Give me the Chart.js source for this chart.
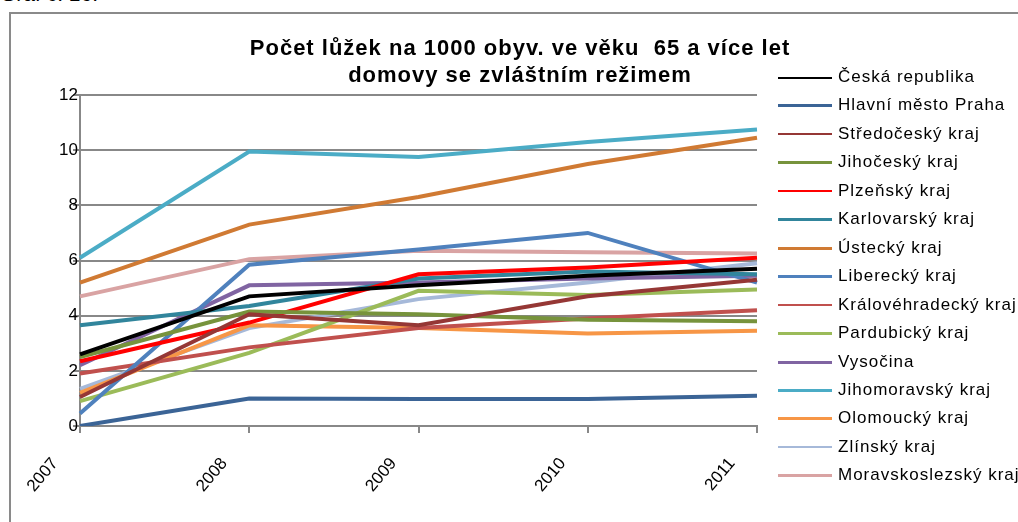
<!DOCTYPE html>
<html>
<head>
<meta charset="utf-8">
<script src="https://cdn.jsdelivr.net/npm/chart.js@4/dist/chart.umd.min.js"></script>
<style>
    body { margin: 0; background: #fff; overflow: hidden; font-family: "Liberation Sans", Arial, sans-serif; }
    #wrap { position: relative; width: 1018px; height: 522px; overflow: hidden; }
    #frame { position: absolute; left: 9px; top: 12px; width: 1100px; height: 600px; border: 2px solid #8a8a8a; }
    #topText { position: absolute; left: 0px; top: -18px; font-size: 21px; color: #000; white-space: nowrap; }
    #title { position: absolute; left: 170px; width: 700px; top: 34px; text-align: center; font-weight: bold; font-size: 22px; letter-spacing: 1px; line-height: 27px; color: #000; }
    #chartCanvas { position: absolute; left: 0; top: 0; }
    #legend { position: absolute; left: 778px; top: 0; }
    .legendItem { position: absolute; left: 0; white-space: nowrap; font-size: 17px; letter-spacing: 1px; color: #000; }
    .legendLine { display: inline-block; width: 54px; height: 3px; vertical-align: middle; margin-right: 6px; }
</style>
</head>
<body>
<div id="wrap">
    <div id="frame"></div>
    <div id="topText">Graf č. 16:</div>
    <canvas id="chartCanvas" width="1018" height="522"></canvas>
    <div id="title">Počet lůžek na 1000 obyv. ve věku&nbsp; 65 a více let<br>domovy se zvláštním režimem</div>
    <div id="legend"></div>
</div>
<script>
// Roky (osa x)
const years = ['2007', '2008', '2009', '2010', '2011'];

// Popisky osy y
const yTicks = [0, 2, 4, 6, 8, 10, 12];

// Nazvy kraju
const regions = [
    'Česká republika',
    'Hlavní město Praha',
    'Středočeský kraj',
    'Jihočeský kraj',
    'Plzeňský kraj',
    'Karlovarský kraj',
    'Ústecký kraj',
    'Liberecký kraj',
    'Královéhradecký kraj',
    'Pardubický kraj',
    'Vysočina',
    'Jihomoravský kraj',
    'Olomoucký kraj',
    'Zlínský kraj',
    'Moravskoslezský kraj'
];

// Hodnoty pro kazdy kraj (2007 - 2011)
const ceskaRepublika   = [2.6, 4.7, 5.1, 5.45, 5.7];
const praha            = [0.0, 1.0, 0.98, 0.98, 1.1];
const stredocesky      = [1.05, 4.05, 3.65, 4.7, 5.3];
const jihocesky        = [2.5, 4.15, 4.05, 3.85, 3.8];
const plzensky         = [2.35, 3.75, 5.5, 5.75, 6.1];
const karlovarsky      = [3.65, 4.35, 5.35, 5.6, 5.5];
const ustecky          = [5.2, 7.3, 8.3, 9.5, 10.45];
const liberecky        = [0.45, 5.85, 6.4, 7.0, 5.2];
const kralovehradecky  = [1.9, 2.85, 3.55, 3.9, 4.2];
const pardubicky       = [0.9, 2.65, 4.9, 4.75, 4.95];
const vysocina         = [2.2, 5.1, 5.2, 5.35, 5.45];
const jihomoravsky     = [6.1, 9.95, 9.75, 10.3, 10.75];
const olomoucky        = [1.2, 3.65, 3.55, 3.35, 3.45];
const zlinsky          = [1.35, 3.55, 4.6, 5.2, 5.9];
const moravskoslezsky  = [4.7, 6.05, 6.35, 6.3, 6.25];

const seriesValues = [
    ceskaRepublika, praha, stredocesky, jihocesky, plzensky,
    karlovarsky, ustecky, liberecky, kralovehradecky, pardubicky,
    vysocina, jihomoravsky, olomoucky, zlinsky, moravskoslezsky
];

// Barvy car
const colors = [
    '#000000', '#3b6496', '#953735', '#77933c', '#ff0000',
    '#31859c', '#d07a33', '#4f81bd', '#c0504d', '#9bbb59',
    '#8064a2', '#4bacc6', '#f79646', '#a6b9d9', '#d9a3a3'
];

// Sestaveni datasetu
let datasets = [];
for (let i = 0; i < regions.length; i++) {
    datasets.push({
        label: regions[i],
        data: seriesValues[i],
        borderColor: colors[i],
        backgroundColor: colors[i],
        borderWidth: 4,
        pointRadius: 0,
        tension: 0,
        fill: false
    });
}

const gridColor = '#888888';

new Chart('chartCanvas', {
    type: 'line',
    data: {
        labels: years,
        datasets: datasets
    },
    options: {
        responsive: false,
        animation: false,
        layout: {
            padding: { left: 0, right: 261, top: 95, bottom: 0 }
        },
        plugins: {
            legend: { display: false },
            title: { display: false },
            tooltip: { enabled: false }
        },
        scales: {
            x: {
                offset: false,
                afterFit: function(scale) { scale.height = 96; },
                grid: {
                    drawOnChartArea: false,
                    drawTicks: true,
                    tickLength: 7,
                    color: gridColor,
                    lineWidth: 2
                },
                border: { color: gridColor, width: 2 },
                ticks: {
                    color: '#000',
                    font: { family: 'Liberation Sans', size: 17 },
                    minRotation: 50,
                    maxRotation: 50,
                    labelOffset: -25,
                    padding: 21
                }
            },
            y: {
                min: 0,
                max: 12,
                afterFit: function(scale) { scale.width = 80; },
                afterBuildTicks: function(scale) {
                    scale.ticks = yTicks.map(v => ({ value: v }));
                },
                grid: {
                    color: gridColor,
                    lineWidth: 2,
                    drawTicks: true,
                    tickLength: 7
                },
                border: { color: gridColor, width: 2 },
                ticks: {
                    color: '#000',
                    font: { family: 'Liberation Sans', size: 17 },
                    padding: -5
                }
            }
        }
    }
});

// Legenda vpravo
const legendDiv = document.getElementById('legend');
for (let i = 0; i < regions.length; i++) {
    let item = document.createElement('div');
    item.className = 'legendItem';
    item.style.top = (76 - 9 + i * 28.45) + 'px';
    let lineWidth = (i == 0 || i == 2 || i == 4 || i == 8 || i == 13) ? 2 : 3;
    item.innerHTML = '<span class="legendLine" style="background:' + colors[i] + ';height:' + lineWidth + 'px"></span>' + regions[i];
    legendDiv.appendChild(item);
}
</script>
</body>
</html>
